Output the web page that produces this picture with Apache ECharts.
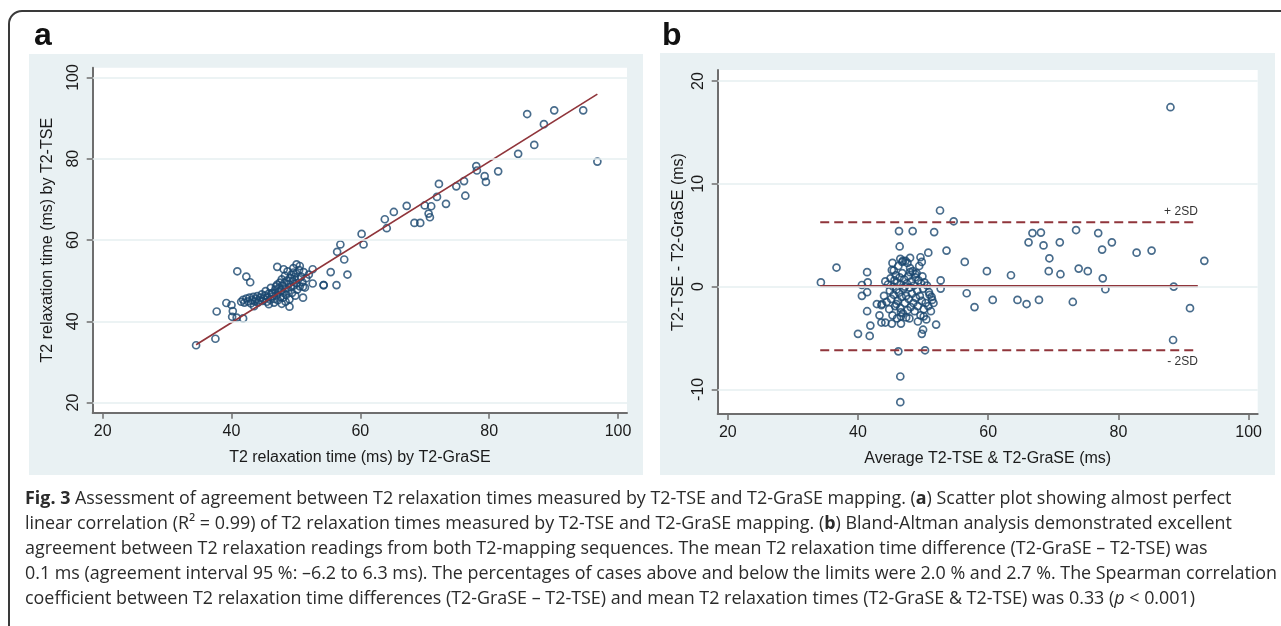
<!DOCTYPE html>
<html>
<head>
<meta charset="utf-8">
<script src="https://cdn.jsdelivr.net/npm/echarts@6/dist/echarts.min.js"></script>
<style>
html, body { margin: 0; padding: 0; background: #fff; }
#chart { width: 1281px; height: 626px; }
</style>
</head>
<body>
<div id="chart"></div>
<script>
// panel a: T2-GraSE (x) vs T2-TSE (y), ms
const scatterA = [
  [34.5, 34.1], [37.5, 35.7], [37.7, 42.4], [39.2, 44.5], [40.0, 44.0], [40.2, 42.5], [40.1, 41.1],
  [40.8, 40.9], [41.8, 40.7], [40.9, 52.3], [42.3, 51.0], [42.9, 49.6],
  [41.5, 44.8], [41.8, 45.3], [42.0, 44.6], [42.3, 45.6], [42.6, 44.9], [42.8, 45.8], [43.0, 44.4],
  [43.2, 45.2], [43.4, 46.0], [43.6, 44.9], [43.8, 45.5], [44.0, 46.2], [44.1, 44.6], [44.3, 45.1],
  [44.5, 45.8], [44.7, 46.6], [44.8, 45.0], [45.0, 45.5], [45.2, 46.3], [45.3, 47.4], [45.5, 44.8],
  [45.6, 45.9], [45.8, 46.8], [46.0, 45.3], [46.1, 48.2], [46.3, 46.1], [46.4, 47.0], [46.6, 44.6],
  [46.7, 45.5], [46.8, 47.8], [46.9, 48.6], [47.0, 46.4], [47.1, 49.0], [47.2, 45.2], [47.3, 47.2],
  [47.4, 48.2], [47.5, 49.5], [47.6, 46.0], [47.7, 47.6], [47.8, 50.3], [47.9, 48.8], [48.0, 45.8],
  [48.1, 47.0], [48.2, 49.4], [48.3, 51.2], [48.4, 48.1], [48.5, 46.5], [48.6, 50.0], [48.7, 52.3],
  [48.8, 47.4], [48.9, 49.2], [49.0, 45.4], [49.1, 50.6], [49.2, 48.4], [49.3, 51.5], [49.4, 47.0],
  [49.5, 49.8], [49.6, 52.0], [49.7, 48.8], [49.8, 50.9], [49.9, 46.3], [50.0, 51.8], [50.1, 49.4],
  [50.2, 47.8], [50.4, 50.4], [50.5, 52.6], [50.6, 48.6], [50.8, 51.0], [51.0, 49.6], [51.2, 52.1],
  [51.4, 48.3], [51.6, 50.6], [52.0, 51.5], [43.5, 43.7], [45.8, 44.2], [47.8, 44.3], [48.4, 44.8],
  [46.2, 46.9], [49.6, 53.1], [48.1, 52.8], [50.6, 53.6], [47.1, 53.4], [50.1, 54.0], [52.6, 52.8],
  [54.3, 48.9], [52.6, 49.3], [51.1, 45.8], [49.0, 43.6], [51.1, 48.5],
  [54.3, 48.9], [56.3, 48.9], [55.4, 52.1], [58.0, 51.5], [57.5, 55.2], [56.4, 57.1], [56.9, 58.9],
  [60.5, 58.9], [60.2, 61.5], [64.1, 62.9], [63.8, 65.1], [65.2, 66.9], [67.2, 68.4], [68.4, 64.2],
  [69.3, 64.2], [70.0, 68.5], [71.0, 68.3], [70.6, 66.5], [70.8, 65.6], [71.9, 70.6], [73.3, 68.9],
  [72.2, 73.8], [74.9, 73.2], [76.1, 74.5], [76.3, 70.9], [78.0, 78.2], [78.1, 77.1], [79.3, 75.7],
  [79.5, 74.3], [81.4, 76.9], [84.5, 81.2], [87.0, 83.4], [88.5, 88.5], [85.9, 91.0], [90.1, 91.9],
  [94.6, 91.9], [96.8, 79.3]
];
const fitLineX = [34.5, 96.8];
const fitLineY = [34.2, 95.9];

// panel b: mean (x) vs difference (y), ms
const scatterB = [
  [34.3, 0.4], [36.7, 1.85], [40.0, -4.6], [41.8, -4.8], [41.9, -3.8], [41.4, -2.4], [40.6, 0.15],
  [41.5, 0.4], [41.4, 1.4], [40.6, -0.9], [41.4, -0.55], [42.9, -1.7], [43.7, -1.7], [43.3, -2.8],
  [43.6, -3.5], [44.2, -3.5], [46.6, -3.6], [46.6, -2.9], [47.9, -3.1], [49.8, -4.6], [50.0, -4.2],
  [52.0, -3.7], [50.1, -2.9], [46.2, -6.3], [50.3, -6.2], [46.5, -8.75], [46.5, -11.25],
  [46.3, 5.4], [48.4, 5.4], [51.7, 5.3], [52.6, 7.4], [54.7, 6.35], [53.6, 3.5], [56.4, 2.4],
  [56.7, -0.65], [52.7, 0.6], [52.7, -0.2], [46.4, 3.9], [50.8, 3.3], [49.6, 2.85], [49.8, 2.4],
  [45.3, 2.3], [46.5, 2.7], [46.9, 2.5], [47.6, 2.3], [45.5, 1.56], [48.0, 1.4], [48.8, 1.2],
  [51.3, -1.0], [50.9, -0.55],
  [43.6, -1.8], [44.0, -0.9], [44.2, 0.5], [44.4, -1.5], [44.6, 0.2], [44.8, -2.2], [44.9, -0.4],
  [45.0, 0.8], [45.1, -1.2], [45.2, 1.6], [45.3, -2.8], [45.4, 0.0], [45.5, -0.8], [45.6, 0.6],
  [45.7, -1.9], [45.8, 1.1], [45.9, -0.3], [46.0, -3.1], [46.0, 0.4], [46.1, -1.4], [46.2, 2.0],
  [46.3, -0.6], [46.4, 0.9], [46.5, -2.1], [46.6, 0.2], [46.7, -1.0], [46.8, 1.3], [46.9, -2.6],
  [47.0, -0.2], [47.1, 0.7], [47.2, -1.6], [47.3, 2.5], [47.4, -0.9], [47.5, 0.3], [47.6, -2.3],
  [47.7, 1.0], [47.8, -1.2], [47.9, -0.1], [48.0, 1.8], [48.1, -2.0], [48.2, 0.5], [48.3, -0.7],
  [48.4, 1.5], [48.5, -1.6], [48.6, 0.1], [48.7, -2.4], [48.8, 0.9], [48.9, -1.1], [49.0, 1.3],
  [49.1, -0.4], [49.2, -1.9], [49.3, 0.6], [49.4, 2.0], [49.5, -0.9], [49.6, -2.8], [49.7, 0.3],
  [49.8, -1.4], [49.9, 1.0], [50.0, -0.2], [50.1, -2.2], [50.2, 0.4], [50.4, -1.6], [50.5, -3.2],
  [50.6, 0.1], [50.8, -1.9], [51.0, -0.8], [51.2, -2.4], [51.4, -1.3], [51.6, -1.6], [45.2, -3.6],
  [46.6, -2.5], [47.4, -3.0], [49.2, -3.4], [48.0, 2.8], [46.8, 2.4], [45.9, -1.7], [47.2, 0.0],
  [59.8, 1.5], [63.5, 1.1], [69.3, 1.5], [71.1, 1.2], [73.9, 1.75], [75.3, 1.5], [77.6, 0.8],
  [78.0, -0.26], [88.5, 0.0], [57.9, -2.0], [60.7, -1.3], [64.5, -1.3], [65.9, -1.7], [67.8, -1.3],
  [73.0, -1.5], [91.0, -2.1], [88.4, -5.2], [69.4, 2.75], [66.2, 4.3], [68.5, 4.0], [71.0, 4.3],
  [79.0, 4.3], [77.5, 3.6], [82.8, 3.3], [85.1, 3.5], [93.2, 2.5], [66.8, 5.2], [68.1, 5.25],
  [73.5, 5.5], [76.9, 5.2], [88.0, 17.45]
];
const limitX = [34.2, 92.2];
const meanDiff = 0.05;
const upperLimit = 6.25;
const lowerLimit = -6.2;

const xTicks = [20, 40, 60, 80, 100];
const yTicksA = [20, 40, 60, 80, 100];
const yTicksB = [-10, 0, 10, 20];

const captionLines = [
  '{b|Fig. 3} Assessment of agreement between T2 relaxation times measured by T2-TSE and T2-GraSE mapping. ({b|a}) Scatter plot showing almost perfect',
  'linear correlation (R² = 0.99) of T2 relaxation times measured by T2-TSE and T2-GraSE mapping. ({b|b}) Bland-Altman analysis demonstrated excellent',
  'agreement between T2 relaxation readings from both T2-mapping sequences. The mean T2 relaxation time difference (T2-GraSE – T2-TSE) was',
  '0.1 ms (agreement interval 95 %: –6.2 to 6.3 ms). The percentages of cases above and below the limits were 2.0 % and 2.7 %. The Spearman correlation',
  'coefficient between T2 relaxation time differences (T2-GraSE – T2-TSE) and mean T2 relaxation times (T2-GraSE & T2-TSE) was 0.33 ({i|p} < 0.001)'
];

const FONT = 'Liberation Sans, Arial, sans-serif';
const CAP_FONT = 'Open Sans';
const bg = '#e9f1f3';
const gridColor = '#e6eff1';
const navy = '#1a476f';
const maroon = '#90353b';
const axisColor = '#6e6e6e';

// fit the caption size so the longest line spans the same width as the picture
const ctx = document.createElement('canvas').getContext('2d');
ctx.font = '100px "' + CAP_FONT + '"';
const capSize = Math.round(100 * 1253 / ctx.measureText(captionLines[3]).width * 10) / 10;

const chart = echarts.init(document.getElementById('chart'));

function xAxisOpt(idx, name, gap) {
  return {
    type: 'value', gridIndex: idx, min: 18.45, max: 101.4,
    name: name, nameLocation: 'middle', nameGap: gap,
    nameTextStyle: { fontFamily: FONT, fontSize: 16, color: '#1a1a1a' },
    axisLine: { show: true, onZero: false, lineStyle: { color: axisColor, width: 2 } },
    axisTick: { show: true, customValues: xTicks, length: 6, lineStyle: { color: axisColor, width: 1.5 } },
    axisLabel: { customValues: xTicks, margin: 11, fontFamily: FONT, fontSize: 16, color: '#1a1a1a' },
    splitLine: { show: false }
  };
}

function yAxisOpt(idx, name, gap, min, max, ticks) {
  return {
    type: 'value', gridIndex: idx, min: min, max: max,
    name: name, nameLocation: 'middle', nameRotate: 90, nameGap: gap,
    nameTextStyle: { fontFamily: FONT, fontSize: 16, color: '#1a1a1a' },
    axisLine: { show: true, onZero: false, lineStyle: { color: axisColor, width: 2 } },
    axisTick: { show: true, customValues: ticks, length: 6, lineStyle: { color: axisColor, width: 1.5 } },
    axisLabel: { customValues: ticks, rotate: 90, margin: 11, fontFamily: FONT, fontSize: 16, color: '#1a1a1a' },
    splitLine: { show: false }
  };
}

function gridLines(xi, yi, ticks) {
  return {
    type: 'scatter', xAxisIndex: xi, yAxisIndex: yi, data: [], silent: true, z: 1,
    markLine: {
      symbol: 'none', silent: true, animation: false, label: { show: false },
      lineStyle: { color: gridColor, type: 'solid', width: 1.5 },
      data: ticks.map(v => ({ yAxis: v }))
    }
  };
}

const circle = {
  symbol: 'circle', symbolSize: 7,
  itemStyle: { color: 'rgba(0,0,0,0)', borderColor: navy, borderWidth: 1.7 }
};

const frame = { fill: 'none', stroke: '#3a3a3a', lineWidth: 2 };
const graphics = [
  { type: 'rect', z: -2, shape: { x: 29, y: 54, width: 614, height: 421 }, style: { fill: bg } },
  { type: 'rect', z: -2, shape: { x: 660, y: 53, width: 615, height: 422 }, style: { fill: bg } },
  { type: 'rect', z: -1, shape: { x: 92.7, y: 67.7, width: 534.3, height: 345 }, style: { fill: '#fff' } },
  { type: 'rect', z: -1, shape: { x: 717.7, y: 70, width: 540, height: 344 }, style: { fill: '#fff' } },
  { type: 'line', shape: { x1: 22, y1: 11, x2: 1281, y2: 11 }, style: frame },
  { type: 'line', shape: { x1: 9, y1: 24, x2: 9, y2: 626 }, style: frame },
  { type: 'arc', shape: { cx: 22, cy: 24, r: 13, startAngle: Math.PI, endAngle: Math.PI * 1.5 }, style: frame },
  { type: 'text', x: 34, y: 52, style: { text: 'a', fontFamily: FONT, fontSize: 32, fontWeight: 'bold',
    fill: '#111', verticalAlign: 'bottom' } },
  { type: 'text', x: 662, y: 52, style: { text: 'b', fontFamily: FONT, fontSize: 32, fontWeight: 'bold',
    fill: '#111', verticalAlign: 'bottom' } }
];

const capTop = [499, 524, 549, 574, 599];
captionLines.forEach((line, i) => {
  graphics.push({
    type: 'text', x: 25, y: capTop[i],
    style: {
      text: line, fontFamily: CAP_FONT, fontSize: capSize, fill: '#2b2b2b',
      verticalAlign: 'middle',
      rich: {
        b: { fontFamily: CAP_FONT, fontSize: capSize, fontWeight: 'bold', fill: '#2b2b2b' },
        i: { fontFamily: CAP_FONT, fontSize: capSize, fontStyle: 'italic', fill: '#2b2b2b' }
      }
    }
  });
});

const option = {
  animation: false,
  backgroundColor: '#fff',
  grid: [
    { left: 92.7, top: 67.7, width: 534.3, height: 345, show: false },
    { left: 717.7, top: 70, width: 540, height: 344, show: false }
  ],
  xAxis: [
    xAxisOpt(0, 'T2 relaxation time (ms) by T2-GraSE', 37),
    xAxisOpt(1, 'Average T2-TSE & T2-GraSE (ms)', 37)
  ],
  yAxis: [
    yAxisOpt(0, 'T2 relaxation time (ms) by T2-TSE', 37.5, 17.5, 102.4, yTicksA),
    yAxisOpt(1, 'T2-TSE - T2-GraSE (ms)', 31.5, -12.4, 21.07, yTicksB)
  ],
  graphic: graphics,
  series: [
    gridLines(0, 0, yTicksA),
    gridLines(1, 1, yTicksB),
    Object.assign({ type: 'scatter', xAxisIndex: 0, yAxisIndex: 0, data: scatterA, z: 2 }, circle),
    {
      type: 'line', xAxisIndex: 0, yAxisIndex: 0, z: 3, showSymbol: false,
      data: fitLineX.map((x, i) => [x, fitLineY[i]]),
      lineStyle: { color: maroon, width: 1.7 }
    },
    Object.assign({ type: 'scatter', xAxisIndex: 1, yAxisIndex: 1, data: scatterB, z: 2 }, circle),
    {
      type: 'line', xAxisIndex: 1, yAxisIndex: 1, z: 3, showSymbol: false,
      data: limitX.map(x => [x, meanDiff]),
      lineStyle: { color: maroon, width: 2.2 }
    },
    {
      type: 'line', xAxisIndex: 1, yAxisIndex: 1, z: 3, symbolSize: 0,
      data: [[limitX[0], upperLimit], { value: [limitX[1], upperLimit],
        label: { show: true, position: 'top', align: 'right', distance: 5, formatter: '+ 2SD',
          fontFamily: FONT, fontSize: 12, color: '#333' } }],
      lineStyle: { color: maroon, width: 2, type: [9, 5] }
    },
    {
      type: 'line', xAxisIndex: 1, yAxisIndex: 1, z: 3, symbolSize: 0,
      data: [[limitX[0], lowerLimit], { value: [limitX[1], lowerLimit],
        label: { show: true, position: 'bottom', align: 'right', distance: 5, formatter: '- 2SD',
          fontFamily: FONT, fontSize: 12, color: '#333' } }],
      lineStyle: { color: maroon, width: 2, type: [9, 5] }
    }
  ]
};

chart.setOption(option);
</script>
</body>
</html>
